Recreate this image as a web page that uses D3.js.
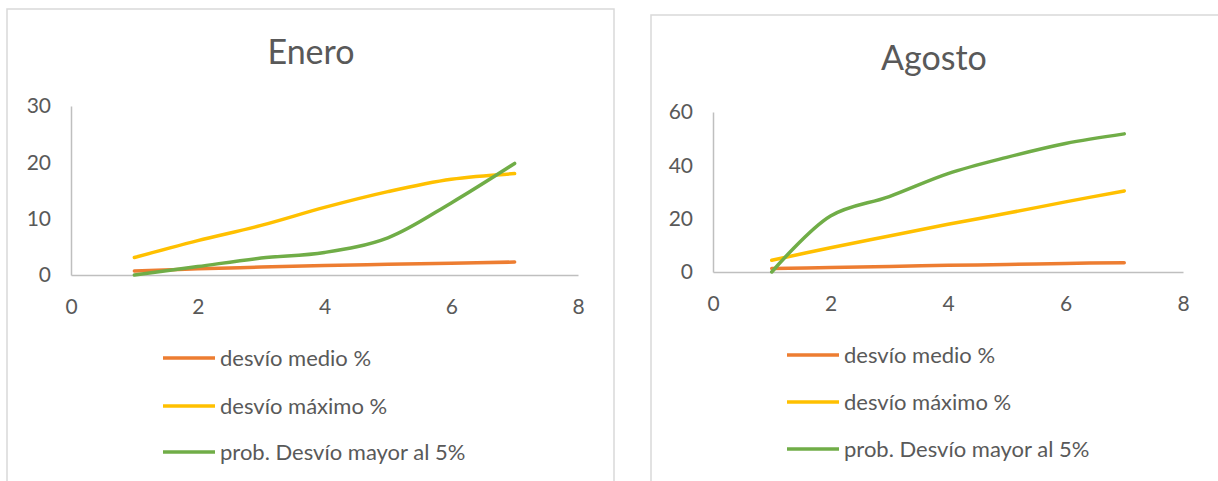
<!DOCTYPE html>
<html>
<head>
<meta charset="utf-8">
<script src="https://cdn.jsdelivr.net/npm/d3@7"></script>
<style>
  body { margin: 0; background: #fff; }
  svg { display: block; }
  text { font-family: Lato, "Open Sans", sans-serif; fill: #595959; }
</style>
</head>
<body>
<svg id="chart" width="1218" height="481"></svg>
<script>
// x values shared by both charts
var xValues = [1, 2, 3, 4, 5, 6, 7];
var xTicks = [0, 2, 4, 6, 8];

var seriesNames = ["desvío medio %", "desvío máximo %", "prob. Desvío mayor al 5%"];
var seriesColors = ["#ED7D31", "#FFC000", "#70AD47"];

// Enero
var eneroMedio = [0.7, 1.1, 1.4, 1.7, 1.9, 2.1, 2.3];
var eneroMaximo = [3.1, 6.1, 8.8, 12.0, 14.8, 17.0, 18.0];
var eneroProb = [0.0, 1.5, 3.0, 4.0, 6.6, 12.8, 19.8];
var eneroYTicks = [0, 10, 20, 30];

// Agosto
var agostoMedio = [1.3, 1.7, 2.1, 2.5, 2.8, 3.2, 3.5];
var agostoMaximo = [4.4, 9.1, 13.5, 17.9, 22.0, 26.3, 30.4];
var agostoProb = [0.0, 21.0, 28.3, 36.9, 43.0, 48.2, 51.8];
var agostoYTicks = [0, 20, 40, 60];

var svg = d3.select("#chart");

function drawChart(opt) {
    var g = svg.append("g");

    // chart frame
    g.append("rect")
        .attr("x", opt.frame[0]).attr("y", opt.frame[1])
        .attr("width", opt.frame[2]).attr("height", opt.frame[3])
        .attr("fill", "#fff").attr("stroke", "#d9d9d9").attr("stroke-width", 1.5);

    g.append("text")
        .attr("x", opt.titleX).attr("y", opt.titleY)
        .attr("text-anchor", "middle")
        .style("font-size", "34px")
        .text(opt.title);

    var x = d3.scaleLinear().domain([0, 8]).range(opt.xRange);
    var y = d3.scaleLinear().domain([0, d3.max(opt.yTicks)]).range(opt.yRange);

    var yAxis = g.append("g")
        .attr("transform", "translate(" + opt.xRange[0] + ",0)")
        .call(d3.axisLeft(y).tickValues(opt.yTicks).tickSize(0).tickPadding(20));
    var xAxis = g.append("g")
        .attr("transform", "translate(0," + opt.yRange[0] + ")")
        .call(d3.axisBottom(x).tickValues(xTicks).tickSize(0).tickPadding(24));

    [xAxis, yAxis].forEach(function(a) {
        a.select(".domain").attr("stroke", "#bfbfbf").attr("stroke-width", 1.5);
        a.selectAll("text").style("font-size", "21px").style("font-family", "Lato, sans-serif").attr("fill", "#595959");
    });

    var line = d3.line()
        .x(function(d, i) { return x(xValues[i]); })
        .y(function(d) { return y(d); })
        .curve(d3.curveCatmullRom.alpha(0.5));

    opt.series.forEach(function(vals, k) {
        g.append("path")
            .datum(vals)
            .attr("d", line)
            .attr("fill", "none")
            .attr("stroke", seriesColors[k])
            .attr("stroke-width", 3.5)
            .attr("stroke-linecap", "round");
    });

    // legend
    seriesNames.forEach(function(name, k) {
        var ly = opt.legendY[k];
        g.append("line")
            .attr("x1", opt.legendX).attr("x2", opt.legendX + 52)
            .attr("y1", ly).attr("y2", ly)
            .attr("stroke", seriesColors[k]).attr("stroke-width", 3.5);
        g.append("text")
            .attr("x", opt.legendX + 57).attr("y", ly)
            .attr("dy", "0.35em")
            .style("font-size", "22px")
            .text(name);
    });
}

drawChart({
    title: "Enero",
    frame: [7, 9, 607, 490],
    titleX: 311, titleY: 64,
    xRange: [71, 578],
    yRange: [275, 106],
    yTicks: eneroYTicks,
    series: [eneroMedio, eneroMaximo, eneroProb],
    legendX: 163,
    legendY: [358, 406, 452]
});

drawChart({
    title: "Agosto",
    frame: [651, 15, 600, 490],
    titleX: 934, titleY: 70,
    xRange: [713, 1183],
    yRange: [272, 112],
    yTicks: agostoYTicks,
    series: [agostoMedio, agostoMaximo, agostoProb],
    legendX: 787,
    legendY: [355, 402, 449]
});
</script>
</body>
</html>
